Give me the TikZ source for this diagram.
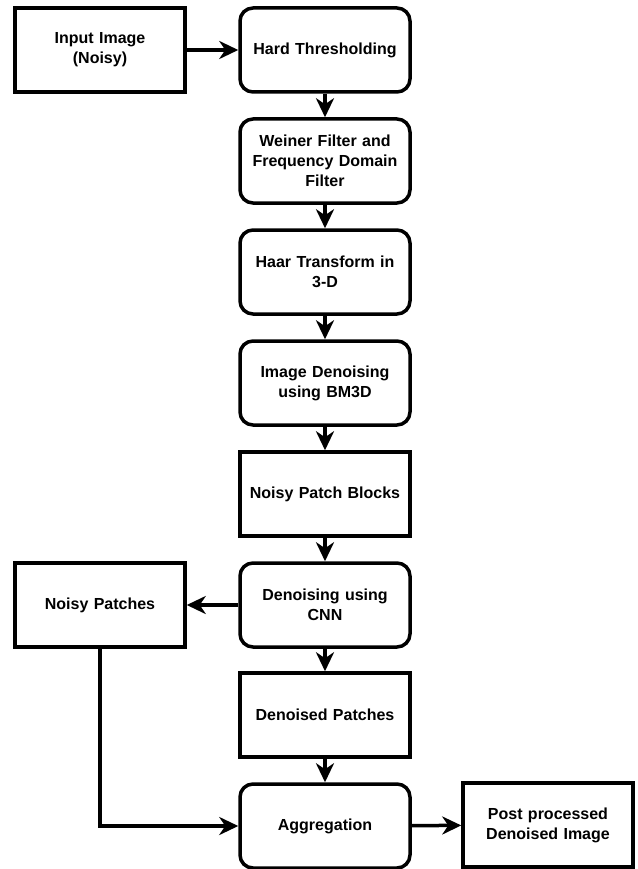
\documentclass[tikz,border=0pt]{standalone}
\usepackage{fontspec}
\setmainfont{Liberation Sans}
\usetikzlibrary{arrows.meta}
\begin{document}
\begin{tikzpicture}[x=1pt,y=-1pt,
  box/.style={draw=black,line width=3.5pt,minimum width=170pt,minimum height=84pt,inner sep=4pt,align=center,font=\fontsize{16}{20}\selectfont\bfseries,text width=160pt},
  rbox/.style={box,rounded corners=13pt},
  arr/.style={line width=3.5pt,-{Stealth[length=19pt,width=18pt,inset=6pt]}}]
\useasboundingbox (0,0) rectangle (637,869);
\node[box]  (inp)  at (100,50)  {Input Image\\(Noisy)};
\node[rbox] (hard) at (325,50)  {Hard Thresholding};
\node[rbox] (wein) at (325,161) {Weiner Filter and\\Frequency Domain\\Filter};
\node[rbox] (haar) at (325,272) {Haar Transform in\\3-D};
\node[rbox] (bm3d) at (325,383) {Image Denoising\\using BM3D};
\node[box]  (npb)  at (325,494) {Noisy Patch Blocks};
\node[rbox] (cnn)  at (325,605) {Denoising using\\CNN};
\node[box]  (np)   at (100,605) {Noisy Patches};
\node[box]  (dp)   at (325,715) {Denoised Patches};
\node[rbox] (agg)  at (325,826) {Aggregation};
\node[box]  (post) at (548,825) {Post processed\\Denoised Image};
\draw[arr] (inp) -- (hard);
\draw[arr] (hard) -- (wein);
\draw[arr] (wein) -- (haar);
\draw[arr] (haar) -- (bm3d);
\draw[arr] (bm3d) -- (npb);
\draw[arr] (npb) -- (cnn);
\draw[arr] (cnn) -- (np);
\draw[arr] (cnn) -- (dp);
\draw[arr] (dp) -- (agg);
\draw[arr] (np.south) |- (agg.west);
\draw[arr] (agg) -- (post);
\end{tikzpicture}
\end{document}
